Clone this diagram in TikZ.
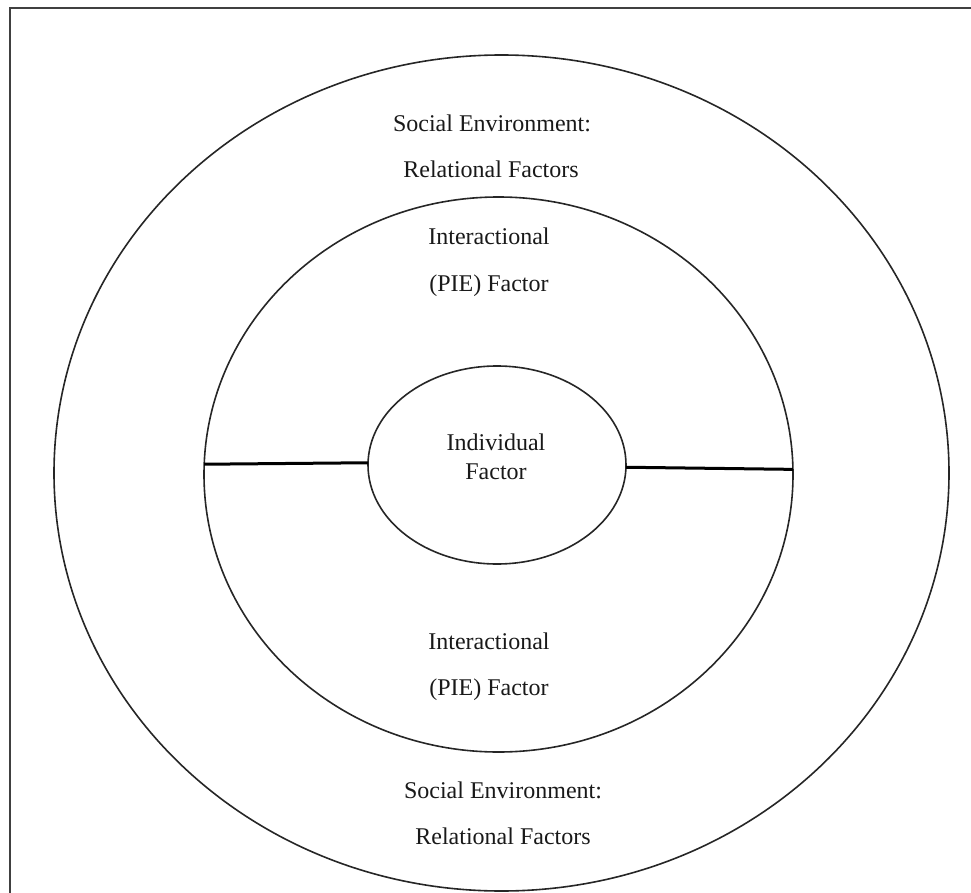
\documentclass[tikz,border=0pt]{standalone}
\usepackage{fontspec}
\setmainfont{Liberation Serif}
\usetikzlibrary{shapes.geometric}
\begin{document}
\begin{tikzpicture}[x=1pt,y=-1pt,
  ring/.style={draw=black!85, line width=1.6pt, ellipse, inner sep=0pt, outer sep=0pt},
  label/.style={anchor=base, inner sep=0pt, font=\fontsize{24}{28}\selectfont, text=black!90},
  divider/.style={draw=black, line width=3pt}]
  \useasboundingbox (0,0) rectangle (971,893);
  % page frame, only its top and left edges fall inside the picture
  \begin{scope}
    \clip (0,0) rectangle (971,893);
    \draw[black!75, line width=2.5pt] (10,8) rectangle (1100,1000);
  \end{scope}

  % three nested layers
  \node[ring, minimum width=895pt, minimum height=836pt] (outer) at (501.5,473) {};
  \node[ring, minimum width=589pt, minimum height=555pt] (middle) at (498.5,474.5) {};
  \node[ring, minimum width=258pt, minimum height=198pt] (inner) at (497,465) {};

  % dividers splitting the interactional ring
  \draw[divider] (middle.178) -- (inner.179);
  \draw[divider] (inner.-1) -- (middle.1.3);

  % labels
  \node[label] (socA) at (492,132) {Social Environment:};
  \node[label] (socB) at (491,178) {Relational Factors};
  \node[label] (intA) at (489,245) {Interactional};
  \node[label] (intB) at (489,291) {(PIE) Factor};
  \node[label] (indA) at (496,450) {Individual};
  \node[label] (indB) at (496,479) {Factor};
  \node[label] (intC) at (489,649) {Interactional};
  \node[label] (intD) at (489,695) {(PIE) Factor};
  \node[label] (socC) at (503,798) {Social Environment:};
  \node[label] (socD) at (503,844) {Relational Factors};
\end{tikzpicture}
\end{document}
